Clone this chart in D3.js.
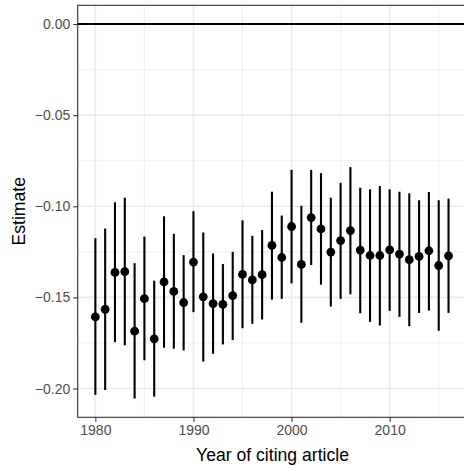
<!DOCTYPE html>
<html>
<head>
<meta charset="utf-8">
<script src="https://cdn.jsdelivr.net/npm/d3@7"></script>
<style>
  body { margin: 0; background: #fff; }
  svg { display: block; font-family: "Liberation Sans", Arial, sans-serif; }
  .tick text { fill: #4d4d4d; font-size: 14px; }
  .axis-title { fill: #000; font-size: 17.6px; }
</style>
</head>
<body>
<svg id="chart" width="464" height="468"></svg>
<script>
const years = [1980, 1981, 1982, 1983, 1984, 1985, 1986, 1987, 1988, 1989,
  1990, 1991, 1992, 1993, 1994, 1995, 1996, 1997, 1998, 1999,
  2000, 2001, 2002, 2003, 2004, 2005, 2006, 2007, 2008, 2009,
  2010, 2011, 2012, 2013, 2014, 2015, 2016];
const estimate = [-0.1607, -0.1565, -0.1363, -0.1359, -0.1685, -0.1507, -0.1727, -0.1415, -0.1467, -0.1528,
  -0.1306, -0.1497, -0.1534, -0.1538, -0.1490, -0.1374, -0.1404, -0.1375, -0.1215, -0.1281,
  -0.1111, -0.1319, -0.1062, -0.1124, -0.1251, -0.1188, -0.1133, -0.1240, -0.1270, -0.1270,
  -0.1239, -0.1262, -0.1293, -0.1275, -0.1244, -0.1325, -0.1272];
const upper = [-0.1175, -0.1122, -0.0978, -0.0953, -0.1312, -0.1166, -0.1408, -0.1055, -0.1151, -0.1268,
  -0.1027, -0.1144, -0.1259, -0.1317, -0.1250, -0.1077, -0.1162, -0.1130, -0.0920, -0.1051,
  -0.0800, -0.0997, -0.0800, -0.0818, -0.0953, -0.0871, -0.0785, -0.0898, -0.0907, -0.0889,
  -0.0907, -0.0920, -0.0929, -0.0967, -0.0922, -0.0967, -0.0958];
const lower = [-0.2035, -0.2008, -0.1745, -0.1763, -0.2055, -0.1845, -0.2044, -0.1776, -0.1781, -0.1791,
  -0.1581, -0.1852, -0.1809, -0.1758, -0.1734, -0.1669, -0.1645, -0.1621, -0.1512, -0.1508,
  -0.1423, -0.1639, -0.1322, -0.1430, -0.1550, -0.1508, -0.1483, -0.1587, -0.1634, -0.1654,
  -0.1574, -0.1607, -0.1658, -0.1585, -0.1572, -0.1683, -0.1585];
const xTicks = [1980, 1990, 2000, 2010];
const xMinor = [1985, 1995, 2005, 2015];
const yTicks = [0, -0.05, -0.10, -0.15, -0.20];
const yMinor = [-0.025, -0.075, -0.125, -0.175];
const refLine = 0;

const data = years.map((y, i) => ({year: y, est: estimate[i], lo: lower[i], hi: upper[i]}));

const width = 464, height = 468;
const margin = {top: 5.3, left: 77.7, bottom: 50.7};
// the panel runs off the right side of the picture
const xPerYear = 9.81;

// ggplot-style 5% expansion
const xExt = d3.extent(years);
const xPad = (xExt[1] - xExt[0]) * 0.05;
const xScale = d3.scaleLinear()
  .domain([xExt[0] - xPad, xExt[1] + xPad])
  .range([margin.left, margin.left + (xExt[1] - xExt[0] + 2 * xPad) * xPerYear]);

const yExt = [d3.min(lower.concat([refLine])), d3.max(upper.concat([refLine]))];
const yPad = (yExt[1] - yExt[0]) * 0.05;
const yScale = d3.scaleLinear()
  .domain([yExt[0] - yPad, yExt[1] + yPad])
  .range([height - margin.bottom, margin.top]);

const svg = d3.select("#chart");
const panelRight = xScale.range()[1];
const panelBottom = height - margin.bottom;

// Grid.
const grid = svg.append("g");
grid.selectAll(".ymin").data(yMinor).join("line")
  .attr("x1", margin.left).attr("x2", panelRight)
  .attr("y1", (d) => yScale(d)).attr("y2", (d) => yScale(d))
  .attr("stroke", "#ebebeb").attr("stroke-width", 0.8);
grid.selectAll(".xmin").data(xMinor).join("line")
  .attr("x1", (d) => xScale(d)).attr("x2", (d) => xScale(d))
  .attr("y1", margin.top).attr("y2", panelBottom)
  .attr("stroke", "#ebebeb").attr("stroke-width", 0.8);
grid.selectAll(".ymaj").data(yTicks).join("line")
  .attr("x1", margin.left).attr("x2", panelRight)
  .attr("y1", (d) => yScale(d)).attr("y2", (d) => yScale(d))
  .attr("stroke", "#ebebeb").attr("stroke-width", 1.6);
grid.selectAll(".xmaj").data(xTicks).join("line")
  .attr("x1", (d) => xScale(d)).attr("x2", (d) => xScale(d))
  .attr("y1", margin.top).attr("y2", panelBottom)
  .attr("stroke", "#ebebeb").attr("stroke-width", 1.6);

// Reference line at zero.
svg.append("line")
  .attr("x1", margin.left).attr("x2", panelRight)
  .attr("y1", yScale(refLine)).attr("y2", yScale(refLine))
  .attr("stroke", "#000").attr("stroke-width", 1.9);

// Error bars and points.
svg.append("g").selectAll("line").data(data).join("line")
  .attr("x1", (d) => xScale(d.year)).attr("x2", (d) => xScale(d.year))
  .attr("y1", (d) => yScale(d.lo)).attr("y2", (d) => yScale(d.hi))
  .attr("stroke", "#000").attr("stroke-width", 2.1);
svg.append("g").selectAll("circle").data(data).join("circle")
  .attr("cx", (d) => xScale(d.year)).attr("cy", (d) => yScale(d.est))
  .attr("r", 4.4).attr("fill", "#000");

// Panel border.
svg.append("rect")
  .attr("x", margin.left).attr("y", margin.top)
  .attr("width", panelRight - margin.left).attr("height", panelBottom - margin.top)
  .attr("fill", "none").attr("stroke", "#333").attr("stroke-width", 1.1);

// Axes.
const xAxis = d3.axisBottom(xScale).tickValues(xTicks).tickFormat(d3.format("d"))
  .tickSizeInner(4.4).tickSizeOuter(0).tickPadding(3);
const gx = svg.append("g").attr("transform", `translate(0, ${panelBottom})`).call(xAxis);
gx.select(".domain").remove();
gx.selectAll(".tick line").attr("stroke", "#333").attr("stroke-width", 1.1);

const yAxis = d3.axisLeft(yScale).tickValues(yTicks)
  .tickFormat((d) => d3.format(".2f")(d).replace("-", "\u2212"))
  .tickSizeInner(4.4).tickSizeOuter(0).tickPadding(3);
const gy = svg.append("g").attr("transform", `translate(${margin.left}, 0)`).call(yAxis);
gy.select(".domain").remove();
gy.selectAll(".tick line").attr("stroke", "#333").attr("stroke-width", 1.1);

// Titles.
svg.append("text").attr("class", "axis-title")
  .attr("x", 272.5).attr("y", 461)
  .attr("text-anchor", "middle")
  .text("Year of citing article");
svg.append("text").attr("class", "axis-title")
  .attr("transform", `translate(24.5, ${(margin.top + panelBottom) / 2}) rotate(-90)`)
  .attr("text-anchor", "middle")
  .text("Estimate");
</script>
</body>
</html>
